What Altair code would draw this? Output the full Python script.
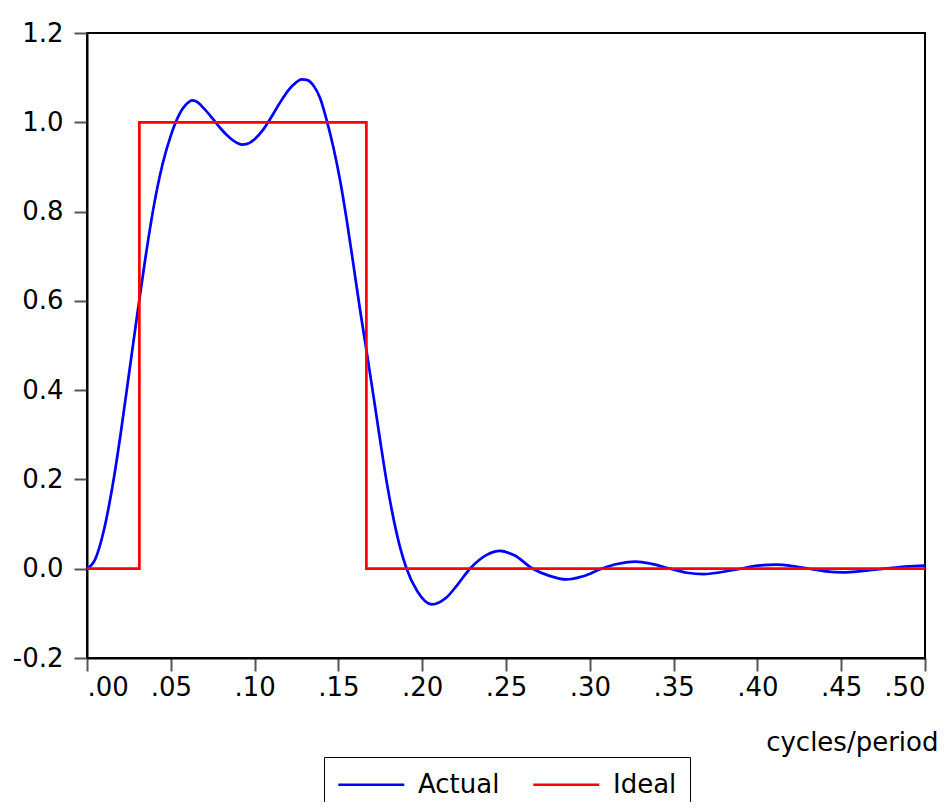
import altair as alt
import pandas as pd

# Actual (band-pass filter frequency response)
freq = [0.000, 0.005, 0.010, 0.015, 0.020, 0.025, 0.030, 0.035, 0.040, 0.045,
        0.050, 0.055, 0.060, 0.0625, 0.065, 0.070, 0.075, 0.080, 0.085, 0.090,
        0.0925, 0.095, 0.100, 0.105, 0.110, 0.115, 0.120, 0.125, 0.128, 0.131,
        0.135, 0.139, 0.143, 0.147, 0.151, 0.155, 0.159, 0.163, 0.1667, 0.171,
        0.175, 0.179, 0.183, 0.187, 0.1907, 0.197, 0.2057, 0.2146, 0.221, 0.2285,
        0.2385, 0.2464, 0.255, 0.266, 0.276, 0.286, 0.296, 0.307, 0.317, 0.327,
        0.337, 0.348, 0.358, 0.368, 0.378, 0.390, 0.400, 0.411, 0.421, 0.431,
        0.441, 0.451, 0.463, 0.476, 0.488, 0.500]
actual = [0.000, 0.022, 0.085, 0.180, 0.300, 0.435, 0.570, 0.700, 0.815, 0.905,
          0.970, 1.017, 1.043, 1.049, 1.047, 1.030, 1.008, 0.985, 0.966, 0.953,
          0.950, 0.951, 0.962, 0.983, 1.012, 1.043, 1.071, 1.090, 1.096, 1.095,
          1.083, 1.055, 1.005, 0.944, 0.870, 0.780, 0.680, 0.578, 0.490, 0.385,
          0.285, 0.190, 0.110, 0.045, 0.000, -0.050, -0.080, -0.064, -0.036, 0.000,
          0.031, 0.040, 0.030, 0.000, -0.016, -0.024, -0.017, 0.000, 0.011, 0.016,
          0.011, 0.000, -0.009, -0.012, -0.008, 0.000, 0.007, 0.009, 0.006, 0.000,
          -0.006, -0.008, -0.005, 0.000, 0.005, 0.007]

# Ideal band-pass (step)
ideal_freq = [0.0, 0.03125, 0.03125, 0.1667, 0.1667, 0.5]
ideal_val = [0.0, 0.0, 1.0, 1.0, 0.0, 0.0]

series_names = ["Actual", "Ideal"]
series_colors = ["#0000ff", "#ff0000"]

x_ticks = [0.00, 0.05, 0.10, 0.15, 0.20, 0.25, 0.30, 0.35, 0.40, 0.45, 0.50]
y_ticks = [-0.2, 0.0, 0.2, 0.4, 0.6, 0.8, 1.0, 1.2]

df_a = pd.DataFrame({"f": freq, "v": actual, "s": "Actual", "i": range(len(freq))})
df_i = pd.DataFrame({"f": ideal_freq, "v": ideal_val, "s": "Ideal", "i": range(len(ideal_freq))})

FONT = "DejaVu Sans"
FS = 26

color = alt.Color(
    "s:N",
    scale=alt.Scale(domain=series_names, range=series_colors),
    legend=alt.Legend(
        title=None,
        orient="none",
        legendX=237,
        legendY=724,
        direction="horizontal",
        columns=2,
        symbolType="M-1,0L4,0",
        symbolSize=697,
        symbolStrokeWidth=2.5,
        labelFont=FONT,
        labelFontSize=FS,
        labelColor="black",
        labelOffset=52,
        columnPadding=28,
        padding=13,
        strokeColor="black",
        fillColor="white",
    ),
)

x = alt.X(
    "f:Q",
    scale=alt.Scale(domain=[0, 0.5], nice=False, zero=False),
    axis=alt.Axis(
        values=x_ticks,
        labelExpr="replace(format(datum.value, '.2f'), '0.', '.')",
        title="cycles/period",
        titleFont=FONT,
        titleFontSize=FS,
        titleFontWeight="normal",
        titleColor="black",
        titleX=851,
        titleY=84,
        titleAlign="right",
        titleBaseline="middle",
        titleAngle=0,
        labelPadding=3,
    ),
)
y = alt.Y(
    "v:Q",
    scale=alt.Scale(domain=[-0.2, 1.2], nice=False, zero=False),
    axis=alt.Axis(
        values=y_ticks,
        labelExpr="datum.value < -0.0001 ? '-' + format(abs(datum.value), '.1f') : format(abs(datum.value), '.1f')",
        title=None,
        labelPadding=11,
    ),
)

actual_line = alt.Chart(df_a).mark_line(
    strokeWidth=2.7, interpolate="monotone"
).encode(x=x, y=y, color=color, order="i:Q")

ideal_line = alt.Chart(df_i).mark_line(
    strokeWidth=2.7, interpolate="linear"
).encode(x=x, y=y, color=color, order="i:Q")

chart = (
    alt.layer(actual_line, ideal_line)
    .properties(
        width=838,
        height=625,
        background="white",
        autosize=alt.AutoSizeParams(type="none"),
        padding={"left": 79, "top": 25, "right": 14, "bottom": 144},
    )
    .configure_view(stroke="black", strokeWidth=2)
    .configure_axis(
        grid=False,
        labelFont=FONT,
        labelFontSize=FS,
        labelColor="black",
        domainColor="black",
        domainWidth=2,
        tickColor="#555555",
        tickWidth=2,
        tickSize=13,
    )
)

chart.save("out.html", embed_options={"renderer": "svg", "actions": False})
